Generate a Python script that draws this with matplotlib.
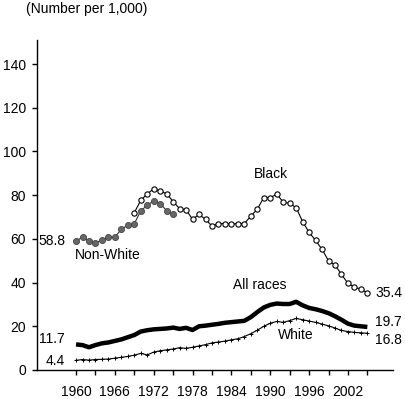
import numpy as np
import matplotlib.pyplot as plt
from matplotlib.ticker import MultipleLocator

plt.rcParams['font.family'] = ['Liberation Sans', 'DejaVu Sans']
plt.rcParams['font.size'] = 10

years = np.arange(1960, 2006)

all_races = [11.7, 11.4, 10.4, 11.4, 12.2, 12.6, 13.3, 14.0, 15.0, 16.0,
             17.6, 18.2, 18.6, 18.8, 19.0, 19.4, 18.8, 19.3, 18.3, 20.0,
             20.3, 20.7, 21.1, 21.6, 21.9, 22.2, 22.5, 24.2, 26.5, 28.6,
             29.8, 30.4, 30.2, 30.2, 31.2, 29.6, 28.4, 27.8, 27.0, 26.0,
             24.6, 23.0, 21.2, 20.3, 20.0, 19.7]

white = [4.4, 4.8, 4.5, 4.8, 4.9, 5.0, 5.4, 5.8, 6.2, 6.8,
         7.6, 6.9, 8.2, 8.8, 9.2, 9.6, 10.2, 9.9, 10.4, 11.0,
         11.6, 12.4, 12.8, 13.2, 13.8, 14.3, 15.3, 16.6, 18.2, 20.0,
         21.4, 22.2, 21.8, 22.6, 23.6, 23.0, 22.4, 21.8, 21.0, 20.2,
         19.2, 18.1, 17.6, 17.2, 17.0, 16.8]

nonwhite_years = np.arange(1960, 1976)
nonwhite = [58.8, 61.0, 58.9, 58.2, 59.4, 60.9, 60.9, 64.3, 66.4, 66.9,
            72.9, 75.4, 77.4, 76.1, 72.9, 71.2]

black_years = np.arange(1969, 2006)
black = [72.0, 77.6, 80.6, 82.9, 81.9, 80.6, 77.1, 73.8, 73.3, 68.9,
         71.2, 68.9, 65.9, 67.0, 67.0, 66.8, 67.0, 67.0, 70.4, 73.6,
         78.9, 78.9, 80.4, 76.9, 76.2, 74.3, 67.9, 63.0, 59.3, 55.2,
         50.0, 48.0, 43.8, 39.6, 38.0, 36.9, 35.4]

fig = plt.figure(figsize=(4.06, 3.99), dpi=100)
ax = fig.add_axes([0.09, 0.0727, 0.877, 0.827])

ax.plot(black_years, black, color='black', lw=0.8, marker='o', ms=3.8,
        mfc='white', mec='black', mew=0.8, zorder=3)
ax.plot(nonwhite_years, nonwhite, color='#333333', lw=0.8, marker='o', ms=4.4,
        mfc='#666666', mec='#444444', mew=0.6, zorder=4)
ax.plot(years, all_races, color='black', lw=3.2, solid_capstyle='butt', zorder=2)
ax.plot(years, white, color='black', lw=0.8, marker='+', ms=3, mew=0.7, zorder=2)

ax.set_xlim(1953.9, 2008.9)
ax.set_ylim(0, 151)
ax.spines['top'].set_visible(False)
ax.spines['right'].set_visible(False)
ax.spines['left'].set_linewidth(1)
ax.spines['bottom'].set_linewidth(1)

ax.set_yticks(np.arange(0, 141, 20))
ax.set_xticks(np.arange(1960, 2003, 6))
ax.xaxis.set_minor_locator(MultipleLocator(3))
ax.set_xticks(np.arange(1963, 2006, 6), minor=True)
ax.tick_params(axis='both', which='both', direction='out', length=3.5, width=1,
               labelsize=10)
ax.tick_params(axis='y', pad=4)
ax.tick_params(axis='x', pad=7)

ax.text(0.065, 0.978, '(Number per 1,000)', transform=fig.transFigure,
        ha='left', va='center', fontsize=10)

ax.text(1958.3, nonwhite[0], '58.8', ha='right', va='center', fontsize=10)
ax.text(1959.8, 52.5, 'Non-White', ha='left', va='center', fontsize=10)
ax.text(1987.5, 89.5, 'Black', ha='left', va='center', fontsize=10)
ax.text(1984.2, 39, 'All races', ha='left', va='center', fontsize=10)
ax.text(2006.2, black[-1], '35.4', ha='left', va='center', fontsize=10)
ax.text(2006.2, 21.8, '19.7', ha='left', va='center', fontsize=10)
ax.text(2006.2, 13.7, '16.8', ha='left', va='center', fontsize=10)
ax.text(1991.2, 16.2, 'White', ha='left', va='center', fontsize=10)
ax.text(1958.3, 14.2, '11.7', ha='right', va='center', fontsize=10)
ax.text(1958.3, 4.0, '4.4', ha='right', va='center', fontsize=10)

fig.savefig('out.png', dpi=100, facecolor='white')
